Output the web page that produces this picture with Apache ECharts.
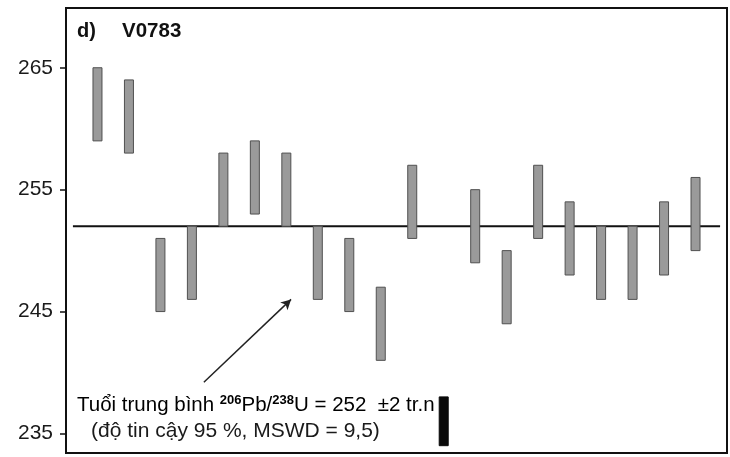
<!DOCTYPE html>
<html>
<head>
<meta charset="utf-8">
<script src="https://cdn.jsdelivr.net/npm/echarts@6/dist/echarts.min.js"></script>
<style>
  html, body { margin: 0; padding: 0; background: #fff; }
  #chart { width: 730px; height: 457px; }
</style>
</head>
<body>
<div id="chart"></div>
<script>
// Spot analyses (analysis number) and their 206Pb/238U age ranges, Ma
const spotNo  = [1, 2, 3, 4, 5, 6, 7, 8, 9, 10, 11, 13, 14, 15, 16, 17, 18, 19, 20];
const ageLow  = [259, 258, 245, 246, 252, 253, 252, 246, 245, 241, 251, 249, 244, 251, 248, 246, 246, 248, 250];
const ageHigh = [265, 264, 251, 252, 258, 259, 258, 252, 251, 247, 257, 255, 250, 257, 254, 252, 252, 254, 256];

// Weighted mean age and its ±2 Ma error bar
const meanAge = 252;
const meanLineX = [0.22, 20.78];
const errorBarX = 12;
const errorBarRange = [234, 238];

// Arrow pointing from the caption to the mean line
const arrowFrom = [4.38, 239.2];
const arrowTo = [7.15, 246.0];

// Y axis ticks
const yTicks = [235, 245, 255, 265];

const FONT = "'Liberation Sans', Arial, sans-serif";
const chart = echarts.init(document.getElementById('chart'), null, { renderer: 'canvas' });

function rangeBar(fill, stroke) {
  return function (params, api) {
    const x = api.value(0);
    const top = api.coord([x, api.value(2)]);
    const bot = api.coord([x, api.value(1)]);
    return {
      type: 'rect',
      shape: { x: top[0] - 4.5, y: top[1], width: 9, height: bot[1] - top[1] },
      style: { fill: fill, stroke: stroke, lineWidth: 1 }
    };
  };
}

chart.setOption({
  animation: false,
  backgroundColor: '#fff',
  grid: {
    left: 66, right: 3, top: 8, bottom: 4,
    show: true, borderColor: '#111', borderWidth: 2, backgroundColor: 'transparent'
  },
  xAxis: {
    type: 'value', min: 0, max: 21,
    axisLine: { show: false }, axisTick: { show: false },
    axisLabel: { show: false }, splitLine: { show: false }
  },
  yAxis: {
    type: 'value', min: 233.4, max: 269.9,
    axisLine: { show: true, lineStyle: { color: '#111', width: 2 } },
    axisTick: { show: true, customValues: yTicks, length: 6, lineStyle: { color: '#111', width: 1.5 } },
    axisLabel: {
      customValues: yTicks, margin: 13,
      fontFamily: FONT, fontSize: 21, color: '#1a1a1a'
    },
    splitLine: { show: false }
  },
  series: [
    {
      type: 'line',
      data: [[meanLineX[0], meanAge], [meanLineX[1], meanAge]],
      symbol: 'none',
      lineStyle: { color: '#111', width: 2 },
      z: 1,
      silent: true
    },
    {
      type: 'custom',
      renderItem: rangeBar('#9a9a9a', '#505050'),
      data: spotNo.map((n, i) => [n, ageLow[i], ageHigh[i]]),
      encode: { x: 0, y: [1, 2] },
      z: 3
    },
    {
      type: 'custom',
      renderItem: rangeBar('#0a0a0a', '#0a0a0a'),
      data: [[errorBarX, errorBarRange[0], errorBarRange[1]]],
      encode: { x: 0, y: [1, 2] },
      z: 3
    },
    {
      type: 'line',
      data: [],
      markLine: {
        silent: true,
        symbol: ['none', 'arrow'],
        symbolSize: [8, 10],
        label: { show: false },
        lineStyle: { color: '#222', width: 1.5, type: 'solid' },
        data: [[{ coord: arrowFrom }, { coord: arrowTo }]]
      }
    }
  ],
  graphic: [
    {
      type: 'text', left: 77, top: 21,
      style: { text: 'd)', font: 'bold 20px ' + FONT, fill: '#111' }
    },
    {
      type: 'text', left: 122, top: 21,
      style: { text: 'V0783', font: 'bold 20.5px ' + FONT, fill: '#111' }
    },
    {
      type: 'text', left: 77, top: 392,
      style: {
        text: '{n|Tuổi trung bình }{s|206}{n|Pb/}{s|238}{n|U = 252  ±2 tr.n}',
        rich: {
          n: { fontFamily: FONT, fontSize: 20.5, color: '#1a1a1a', lineHeight: 24, verticalAlign: 'bottom' },
          s: { fontFamily: FONT, fontSize: 13, fontWeight: 'bold', color: '#1a1a1a', lineHeight: 24, verticalAlign: 'top', padding: [2, 0, 0, 0] }
        }
      }
    },
    {
      type: 'text', left: 91, top: 421,
      style: { text: '(độ tin cậy 95 %, MSWD = 9,5)', font: '21px ' + FONT, fill: '#1a1a1a' }
    }
  ]
});
</script>
</body>
</html>
